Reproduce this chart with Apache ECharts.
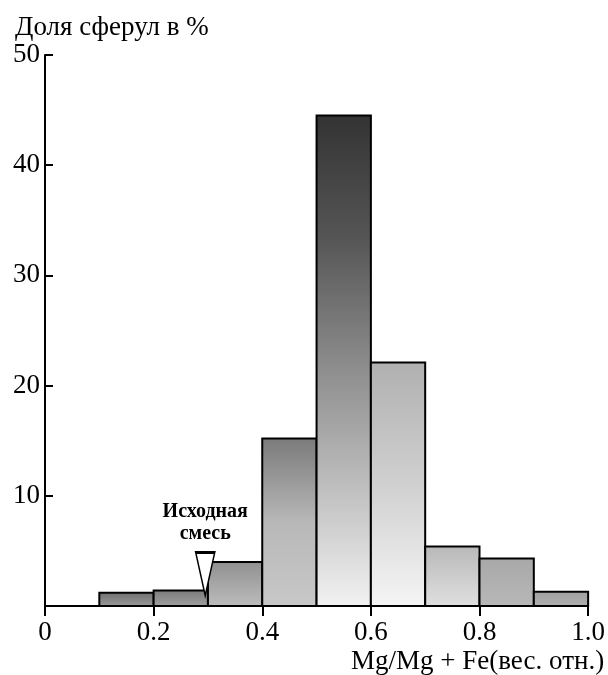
<!DOCTYPE html>
<html>
<head>
<meta charset="utf-8">
<script src="https://cdn.jsdelivr.net/npm/echarts@6/dist/echarts.min.js"></script>
<style>
	html, body { margin: 0; padding: 0; background: #fff; }
	#chart { width: 608px; height: 675px; }
</style>
</head>
<body>
<div id="chart"></div>
<script>
	// интервалы Mg/(Mg+Fe)
	var binStart = [0, 0.1, 0.2, 0.3, 0.4, 0.5, 0.6, 0.7, 0.8, 0.9];
	var binEnd = [0.1, 0.2, 0.3, 0.4, 0.5, 0.6, 0.7, 0.8, 0.9, 1.0];
	// доля сферул, %
	var shares = [0, 1.2, 1.4, 4.0, 15.2, 44.5, 22.1, 5.4, 4.3, 1.3];
	// исходная смесь
	var mixPoint = [0.295, 2.9];
	var mixLabel = 'Исходная\nсмесь';

	// оттенки столбцов (сверху вниз)
	var shades = [
		['#999', '#999'],
		['#6f6f6f', '#9a9a9a'],
		['#7a7a7a', '#a0a0a0'],
		['#8f8f8f', '#bdbdbd'],
		['#7a7a7a', '#b8b8b8', '#c8c8c8'],
		['#333', '#555', '#8a8a8a', '#bdbdbd', '#f2f2f2'],
		['#b0b0b0', '#d0d0d0', '#f5f5f5'],
		['#b8b8b8', '#e0e0e0'],
		['#a8a8a8', '#b8b8b8'],
		['#a0a0a0', '#b0b0b0']
	];

	var font = '"Liberation Serif", "DejaVu Serif", serif';

	var barData = [];
	for (var i = 0; i < shares.length; i++) {
		barData.push([binStart[i], binEnd[i], shares[i]]);
	}

	function gradient(list) {
		var stops = [];
		for (var k = 0; k < list.length; k++) {
			stops.push({ offset: list.length > 1 ? k / (list.length - 1) : 0, color: list[k] });
		}
		return new echarts.graphic.LinearGradient(0, 0, 0, 1, stops);
	}

	var myChart = echarts.init(document.getElementById('chart'));
	var option = {
		animation: false,
		title: {
			text: 'Доля сферул в %',
			left: 10,
			top: 9,
			textStyle: { fontFamily: font, fontSize: 27, fontWeight: 'normal', color: '#000' }
		},
		grid: { left: 45, right: 19, top: 55, bottom: 67 },
		xAxis: {
			type: 'value',
			min: 0,
			max: 1,
			interval: 0.2,
			name: 'Mg/Mg + Fe(вес. отн.)',
			nameLocation: 'end',
			nameGap: 16,
			nameTextStyle: {
				fontFamily: font, fontSize: 27, color: '#000',
				align: 'right', verticalAlign: 'top', padding: [42, 0, 0, 0]
			},
			axisLine: { lineStyle: { color: '#000', width: 2 } },
			axisTick: { inside: false, length: 10, lineStyle: { color: '#000', width: 2 } },
			axisLabel: {
				fontFamily: font, fontSize: 27, color: '#000', margin: 13,
				formatter: function (v) { return v === 0 ? '0' : v.toFixed(1); }
			},
			splitLine: { show: false }
		},
		yAxis: {
			type: 'value',
			min: 0,
			max: 50,
			interval: 10,
			axisLine: { show: true, lineStyle: { color: '#000', width: 2 } },
			axisTick: { inside: true, length: 8, lineStyle: { color: '#000', width: 2 } },
			axisLabel: {
				fontFamily: font, fontSize: 27, color: '#000', margin: 5,
				formatter: function (v) { return v === 0 ? '' : String(v); }
			},
			splitLine: { show: false }
		},
		series: [
			{
				type: 'custom',
				renderItem: function (params, api) {
					var idx = params.dataIndex;
					var top = api.coord([api.value(0), api.value(2)]);
					var bottom = api.coord([api.value(1), 0]);
					return {
						type: 'rect',
						shape: { x: top[0], y: top[1], width: bottom[0] - top[0], height: bottom[1] - top[1] },
						style: { fill: gradient(shades[idx]), stroke: '#000', lineWidth: 2 }
					};
				},
				encode: { x: [0, 1], y: 2 },
				data: barData
			},
			{
				type: 'scatter',
				symbol: 'path://M0,0 L19,0 L9.5,43 Z',
				symbolKeepAspect: false,
				symbolSize: [19, 43],
				itemStyle: { color: '#fff', borderColor: '#000', borderWidth: 2, opacity: 1 },
				label: {
					show: true,
					position: 'top',
					distance: 6,
					formatter: mixLabel,
					fontFamily: font,
					fontSize: 20,
					fontWeight: 'bold',
					lineHeight: 22,
					color: '#000',
					opacity: 1,
					align: 'center'
				},
				data: [mixPoint],
				z: 5
			}
		]
	};
	myChart.setOption(option);
</script>
</body>
</html>
